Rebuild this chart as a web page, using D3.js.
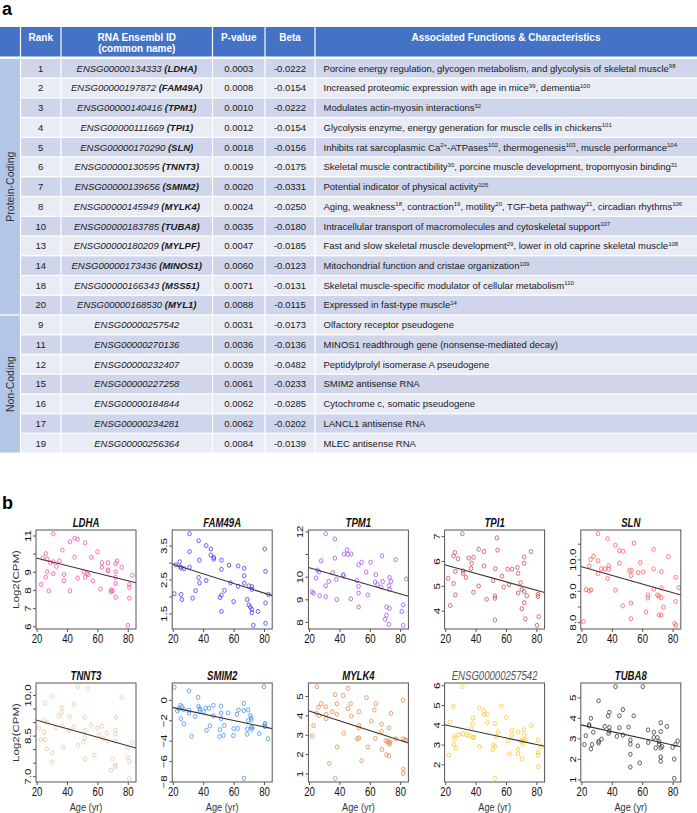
<!DOCTYPE html>
<html><head><meta charset="utf-8">
<script src="https://cdn.jsdelivr.net/npm/d3@7"></script>
<style>
body{margin:0;background:#fff;}
svg{display:block;}
text{white-space:pre;}
</style></head><body><svg id="chart" width="697" height="813"></svg>
<script>
// ================= DATA: table (panel a) =================
const headerLabels = ["", "Rank", "RNA Ensembl ID|(common name)", "P-value", "Beta", "Associated Functions & Characteristics"];
const ranks = [1,2,3,4,5,6,7,8,10,13,14,18,20,9,11,12,15,16,17,19];
const ensemblIds = ["ENSG00000134333","ENSG00000197872","ENSG00000140416","ENSG00000111669","ENSG00000170290","ENSG00000130595","ENSG00000139656","ENSG00000145949","ENSG00000183785","ENSG00000180209","ENSG00000173436","ENSG00000166343","ENSG00000168530","ENSG00000257542","ENSG00000270136","ENSG00000232407","ENSG00000227258","ENSG00000184844","ENSG00000234281","ENSG00000256364"];
const commonNames = ["LDHA","FAM49A","TPM1","TPI1","SLN","TNNT3","SMIM2","MYLK4","TUBA8","MYLPF","MINOS1","MSS51","MYL1","","","","","","",""];
const pValues = ["0.0003","0.0008","0.0010","0.0012","0.0018","0.0019","0.0020","0.0024","0.0035","0.0047","0.0060","0.0071","0.0088","0.0031","0.0036","0.0039","0.0061","0.0062","0.0062","0.0084"];
const betas = ["-0.0222","-0.0154","-0.0222","-0.0154","-0.0156","-0.0175","-0.0331","-0.0250","-0.0180","-0.0185","-0.0123","-0.0131","-0.0115","-0.0173","-0.0136","-0.0482","-0.0233","-0.0285","-0.0202","-0.0139"];
const functionsText = [
  "Porcine energy regulation, glycogen metabolism, and glycolysis of skeletal muscle^{98}",
  "Increased proteomic expression with age in mice^{99}, dementia^{100}",
  "Modulates actin-myosin interactions^{32}",
  "Glycolysis enzyme, energy generation for muscle cells in chickens^{101}",
  "Inhibits rat sarcoplasmic Ca^{2+}-ATPases^{102}, thermogenesis^{103}, muscle performance^{104}",
  "Skeletal muscle contractibility^{30}, porcine muscle development, tropomyosin binding^{31}",
  "Potential indicator of physical activity^{105}",
  "Aging, weakness^{18}, contraction^{19}, motility^{20}, TGF-beta pathway^{21}, circadian rhythms^{106}",
  "Intracellular transport of macromolecules and cytoskeletal support^{107}",
  "Fast and slow skeletal muscle development^{29}, lower in old caprine skeletal muscle^{108}",
  "Mitochondrial function and cristae organization^{109}",
  "Skeletal muscle-specific modulator of cellular metabolism^{110}",
  "Expressed in fast-type muscle^{14}",
  "Olfactory receptor pseudogene",
  "MINOS1 readthrough gene (nonsense-mediated decay)",
  "Peptidylprolyl isomerase A pseudogene",
  "SMIM2 antisense RNA",
  "Cytochrome c, somatic pseudogene",
  "LANCL1 antisense RNA",
  "MLEC antisense RNA"
];
const groupNames = ["Protein-Coding","Non-Coding"];
const groupSizes = [13,7];

// ================= DATA: scatter plots (panel b) =================
const plotTitles = ["LDHA","FAM49A","TPM1","TPI1","SLN","TNNT3","SMIM2","MYLK4","ENSG00000257542","TUBA8"];
const ldhaPts = [[31,11.1],[45,10.85],[47,10.8],[42,10.65],[52,10.6],[37,10.2],[60,10.1],[26,10.0],[45,9.8],[56,9.8],[24,9.75],[27,9.7],[35,9.6],[73,9.6],[31,9.55],[29,9.5],[33,9.3],[63,9.5],[67,9.5],[72,9.45],[63,9.25],[67,9.1],[67,9.05],[76,9.25],[72,9.0],[27,9.0],[31,8.9],[38,8.85],[51,9.0],[53,8.9],[54,8.85],[26,8.7],[47,8.65],[72,8.7],[52,8.7],[83,8.8],[57,8.5],[38,8.5],[23,8.3],[72,8.35],[81,8.3],[81,8.15],[62,8.05],[69,8.0],[70,7.95],[69,7.9],[28,7.95],[42,7.95],[72,7.6],[81,7.55],[80,6.05]];
const fam49aPts = [[31,3.85],[37,3.64],[42,3.5],[45,3.4],[31,3.32],[45,3.22],[47,3.15],[47,3.1],[37.5,3.07],[52,3.07],[80.5,3.4],[81,2.74],[24.5,3.02],[22,2.93],[25,2.87],[25.5,2.84],[27.5,2.82],[31,2.86],[57,2.92],[63,2.9],[67,2.83],[52,2.8],[67,2.61],[37,2.56],[37.5,2.4],[42,2.47],[58,2.4],[67,2.39],[63,2.3],[70,2.31],[72,2.29],[72,2.21],[54,2.18],[35,2.17],[21,2.08],[25.5,2.06],[52,2.04],[51,1.97],[83,2.06],[26,1.91],[33,1.95],[69,1.91],[60,1.85],[81,1.81],[70,1.75],[71,1.69],[72,1.62],[72,1.52],[76,1.56],[52,1.56],[81,1.21],[73,1.15]];
const tpm1Pts = [[31,11.9],[37,11.66],[45,11.18],[47.8,11.0],[43,11.0],[45.5,10.98],[68,10.92],[37,10.82],[77,10.75],[28,10.7],[54.6,10.64],[60.5,10.64],[52.6,10.52],[25.6,10.29],[26.5,10.21],[35.6,10.18],[57.6,10.2],[42.4,10.09],[42.8,10.03],[64,10.09],[24.7,9.94],[84,9.9],[73,9.97],[38,9.88],[51.5,9.83],[33,9.79],[63.5,9.76],[68.5,9.79],[74,9.79],[65,9.66],[72.6,9.6],[31,9.6],[52.6,9.57],[67.5,9.54],[73,9.43],[22,9.33],[23,9.27],[52.6,9.27],[27,9.16],[31,9.11],[58.6,9.19],[47.5,9.02],[38.3,8.99],[82,8.76],[52.6,8.66],[71,8.66],[81,8.46],[73,8.6],[71,8.3],[70,8.12],[72.6,7.89],[82,7.85]];
const tpi1Pts = [[31.3,7.1],[54,6.93],[26.4,6.34],[42,6.47],[45.5,6.38],[54.4,6.44],[76.4,6.38],[25.5,6.2],[28.4,6.09],[35.5,6.12],[38.6,6.15],[72,6.16],[37.4,5.91],[72,5.91],[26.7,5.58],[31.8,5.6],[31.8,5.5],[33.6,5.34],[37,5.7],[45.5,5.8],[53,5.69],[61,5.67],[64,5.67],[67.5,5.74],[68,5.5],[57.4,5.39],[51.5,5.21],[22,5.3],[25.5,5.09],[42,4.99],[62,5.05],[58.5,4.95],[69.6,5.13],[70.4,4.85],[72,4.77],[73.7,4.6],[81,4.66],[81,4.57],[68,4.71],[38.6,4.74],[26.7,4.64],[52.7,4.59],[52.7,4.5],[47.3,4.46],[72,4.32],[70.4,4.08],[23.3,4.21],[81.5,3.76],[72.7,3.67],[52.7,3.62],[80.4,3.41]];
const slnPts = [[31,10.82],[37.2,10.66],[54.6,10.52],[42.4,10.45],[45,10.28],[47.4,10.26],[67.5,10.32],[28,10.1],[77.2,10.09],[26,10.0],[45,9.88],[58.7,9.9],[31,9.96],[25.2,9.79],[33,9.7],[35.6,9.7],[38,9.8],[38,9.69],[67.5,9.7],[51.6,9.64],[53,9.65],[57.4,9.58],[60.7,9.6],[72.6,9.61],[31,9.55],[52.6,9.48],[82,9.43],[37.2,9.39],[84,9.1],[72.6,9.09],[67.7,9.05],[23,9.04],[25.2,9.0],[26.3,9.03],[42.4,9.02],[63.7,8.87],[70,8.87],[71,8.83],[72.6,8.78],[63.7,8.77],[82,8.66],[52.6,8.61],[47.2,8.52],[74,8.48],[62.5,8.32],[71,8.23],[72.6,8.23],[52.6,8.11],[21.4,8.02],[81.3,7.96],[82.2,7.9]];
const tnnt3Pts = [[47,10.31],[53.6,10.24],[76,9.9],[30.4,9.96],[25.5,9.7],[44.4,9.66],[36.7,9.54],[36.4,9.36],[34.7,9.22],[41.8,9.21],[51.8,9.18],[72.2,9.18],[24.7,9.07],[27,8.98],[32.7,8.79],[36.9,8.85],[44.4,8.81],[56,8.89],[60,8.78],[62.9,8.84],[21.6,8.78],[41.3,8.7],[51.8,8.69],[71.8,8.7],[25,8.62],[61.3,8.53],[66.2,8.6],[71.8,8.56],[52,8.42],[64,8.39],[66.7,8.3],[71.8,8.3],[22.7,8.35],[25.5,8.35],[50.7,8.26],[83,8.24],[47,8.15],[37.6,8.07],[80,8.05],[26.7,8.01],[30.4,7.86],[58,7.77],[80,7.69],[52,7.64],[70,7.64],[81,7.54],[30.4,7.52],[71.8,7.41],[71.8,7.36],[69,7.22],[81,6.92]];
const smim2Pts = [[21,1.22],[30.7,0.88],[80,1.29],[36.7,0.24],[66.7,-0.34],[46.7,-0.54],[25,-0.54],[26,-0.68],[36.9,-0.65],[37.8,-0.85],[41.6,-0.82],[43.8,-0.82],[51.8,-0.61],[22.9,-1.09],[24,-0.88],[27.3,-0.95],[30.7,-1.02],[30.7,-1.29],[40.4,-1.16],[37.8,-1.02],[63.3,-0.99],[69.5,-0.99],[66.7,-1.05],[51.8,-1.29],[56.4,-1.29],[46.7,-1.56],[34.7,-1.63],[71,-1.53],[71.6,-1.77],[25.3,-1.84],[51.8,-1.84],[69.6,-2.04],[71.6,-1.97],[62.2,-1.43],[27.3,-2.35],[80.7,-2.31],[80.4,-2.45],[80.7,-2.62],[53.8,-2.52],[44.4,-2.55],[71.6,-2.65],[69,-2.86],[72.4,-2.72],[60,-2.82],[62.7,-2.79],[50.9,-2.93],[42.2,-2.99],[71.8,-2.89],[76.9,-3.3],[69,-3.37],[53.3,-3.47],[59.8,-3.5],[32.4,-3.57],[50.7,-3.6],[82.7,-3.81],[66.7,-7.69]];
const mylk4Pts = [[25.2,5.48],[45.6,5.39],[57.8,4.91],[81.8,4.78],[37.2,5.07],[42.4,5.03],[28,4.6],[38.3,4.6],[47.4,4.6],[64,4.6],[26.3,4.42],[31,4.44],[45.6,4.35],[35.3,4.19],[52.8,4.19],[63,4.28],[74,4.1],[24.8,4.12],[26.6,3.99],[31.3,4.05],[31.3,3.83],[47.8,3.96],[38.3,4.05],[61,3.71],[52.8,3.49],[52.8,3.35],[72.6,3.35],[23,3.47],[67.7,3.54],[67.7,3.17],[42.8,3.08],[63.7,2.81],[51.7,2.79],[52.8,2.83],[22,2.94],[77.2,2.79],[70.5,2.7],[73,2.67],[73,2.58],[73,2.52],[71.6,2.63],[83,2.74],[83.8,2.72],[82,2.79],[38.5,2.36],[58.7,2.36],[68,2.24],[71,1.97],[72.7,1.91],[54.6,1.66],[33.3,1.52],[82,1.23],[82,1.0],[37.2,0.75]];
const ensgPts = [[31.3,5.93],[25.3,4.94],[57,4.94],[42.4,4.85],[45.5,4.71],[47.8,4.53],[45.5,4.51],[38.2,4.35],[60.2,4.37],[23.1,4.14],[47.8,4.11],[38,4.07],[76.7,3.96],[71.8,3.75],[37.3,3.82],[52.7,4.07],[54.7,3.63],[63.8,3.72],[68,3.63],[72.2,3.47],[26.2,3.43],[28.9,3.5],[31.6,3.54],[26.2,3.29],[34.2,3.5],[35.8,3.45],[38.2,3.36],[63.8,3.45],[53.6,3.4],[72,3.24],[69.6,3.19],[70.7,3.17],[73,3.19],[81.1,3.22],[39,3.36],[61.1,3.19],[51.6,2.97],[42.4,2.9],[25.6,3.0],[71.1,3.03],[52.7,2.9],[27.3,2.81],[68,2.76],[51.1,2.74],[83.3,2.9],[68,2.53],[62.4,2.53],[81.1,2.6],[81.1,2.46],[22.4,2.46],[70.4,2.28],[81.3,1.88],[52.7,1.29]];
const tuba8Pts = [[42.4,5.52],[60.4,5.52],[31.3,4.83],[47.3,4.4],[38.4,4.27],[37.6,4.1],[45,4.1],[54.4,4.1],[26.2,3.98],[25.1,3.67],[25.1,3.6],[72.2,3.76],[76.2,3.58],[35.3,3.58],[38.4,3.53],[45,3.52],[51,3.55],[63.9,3.41],[67.7,3.3],[72.2,3.33],[27.8,3.3],[37.8,3.24],[38.4,3.35],[43.3,3.1],[47.3,3.16],[22.9,3.13],[33.2,2.96],[52.2,2.92],[31.3,2.85],[31.3,2.77],[70,3.04],[67.6,3.04],[64,2.8],[71,2.85],[71,2.72],[52.2,2.72],[22,2.7],[27,2.7],[83.3,2.87],[81.8,2.7],[80,2.56],[57.1,2.63],[68.9,2.53],[72.2,2.53],[73.1,2.6],[26.2,2.48],[52.2,2.22],[72.2,2.09],[72.2,1.88],[81.1,1.99],[58.4,1.8],[52.2,1.6],[81.1,1.05]];
const plotPoints = [ldhaPts, fam49aPts, tpm1Pts, tpi1Pts, slnPts, tnnt3Pts, smim2Pts, mylk4Pts, ensgPts, tuba8Pts];
const pointColors = ["#FF4FA7","#3C3CF2","#A652F5","#C8504E","#FF5C5C","#E9C7A2","#4E8FE2","#E8894A","#FFC52E","#3A3A3A"];
// fitted line: value at age 20 and at age 85
const fitAt20 = [9.75, 2.95, 10.4, 5.84, 9.77, 9.07, -0.75, 4.23, 4.0, 3.65];
const fitAt85 = [8.4, 2.03, 9.14, 4.74, 8.87, 8.05, -2.81, 2.58, 2.92, 2.6];
const yTickValues = [[6,7,8,9,10,11],[1.5,2,2.5,3,3.5],[8,9,10,11,12],[4,5,6,7],[8,8.5,9,9.5,10,10.5],[7,7.5,8,8.5,9,9.5,10],[-8,-6,-4,-2,0],[1,2,3,4,5],[2,3,4,5,6],[1,2,3,4,5]];
const yTickLabels = [[6,7,8,9,11],[1.5,2.5,3.5],[8,9,10,12],[4,5,6,7],[8,9,10],[7,8.5,10],[-8,-6,-4,-2,0],[1,2,3,4,5],[2,3,4,5,6],[1,2,3,4,5]];
const yTickDecimals = [0,1,0,0,1,1,0,0,0,0];
const ageTicks = [20,40,60,80];
const ageDomain = [19.6, 85.4];

// ================= DRAW =================
const FONT = '"Liberation Sans", Arial, Helvetica, sans-serif';
const svg = d3.select("#chart").attr("font-family", FONT);

// panel letters
svg.append("text").attr("x", 2).attr("y", 15).attr("font-size", 18).attr("font-weight", "bold").attr("fill", "#000").text("a");
svg.append("text").attr("x", 2).attr("y", 509).attr("font-size", 18).attr("font-weight", "bold").attr("fill", "#000").text("b");

// ---- table ----
const colEdges = [0, 20.5, 61, 212.5, 265, 315, 697];
const headTop = 27, headBot = 56.5;
const rowY = d3.scaleBand().domain(d3.range(ranks.length)).range([59, 452.5]).paddingInner(0.065);
const tbl = svg.append("g").attr("font-size", 9.5);

// header
colEdges.slice(0, -1).forEach((x0, i) => {
  const x1 = colEdges[i + 1];
  tbl.append("rect").attr("x", x0 + (i ? 0.6 : 0)).attr("y", headTop)
    .attr("width", x1 - x0 - (i ? 0.6 : 0) - (i < 5 ? 0.6 : 0)).attr("height", headBot - headTop).attr("fill", "#4472C4");
  const lines = headerLabels[i].split("|").filter(s => s);
  lines.forEach((s, j) => {
    tbl.append("text").attr("x", (x0 + x1) / 2).attr("y", 40.5 + j * 11.5).attr("text-anchor", "middle")
      .attr("font-size", 10).attr("fill", "#fff").attr("font-weight", "bold").text(s);
  });
});

// body cells
ranks.forEach((r, i) => {
  const y0 = rowY(i), h = rowY.bandwidth();
  const fill = i % 2 === 0 ? "#CFD5EA" : "#E9EBF5";
  for (let c = 1; c < 6; c++) {
    const x0 = colEdges[c] + 0.6, x1 = colEdges[c + 1] - (c < 5 ? 0.6 : 0);
    tbl.append("rect").attr("x", x0).attr("y", y0).attr("width", x1 - x0).attr("height", h).attr("fill", fill);
  }
  const cy = y0 + h / 2 + 3.4;
  tbl.append("text").attr("x", (colEdges[1] + colEdges[2]) / 2).attr("y", cy).attr("text-anchor", "middle").attr("fill", "#1a1a1a").text(r);
  const idT = tbl.append("text").attr("x", (colEdges[2] + colEdges[3]) / 2).attr("y", cy).attr("text-anchor", "middle")
    .attr("fill", "#1a1a1a").attr("font-style", "italic");
  idT.append("tspan").text(ensemblIds[i]);
  if (commonNames[i]) {
    idT.append("tspan").text(" ");
    idT.append("tspan").attr("font-weight", "bold").text("(" + commonNames[i] + ")");
  }
  tbl.append("text").attr("x", (colEdges[3] + colEdges[4]) / 2).attr("y", cy).attr("text-anchor", "middle").attr("fill", "#1a1a1a").text(pValues[i]);
  tbl.append("text").attr("x", (colEdges[4] + colEdges[5]) / 2).attr("y", cy).attr("text-anchor", "middle").attr("fill", "#1a1a1a").text(betas[i]);
  const ft = tbl.append("text").attr("x", colEdges[5] + 8.5).attr("y", cy).attr("fill", "#1a1a1a");
  let raised = false;
  functionsText[i].split(/(\^\{[^}]*\})/).forEach(part => {
    if (!part) return;
    const m = part.match(/^\^\{([^}]*)\}$/);
    if (m) { ft.append("tspan").attr("font-size", 6).attr("dy", -3.5).text(m[1]); raised = true; }
    else { const t = ft.append("tspan").text(part); if (raised) { t.attr("dy", 3.5); raised = false; } }
  });
});

// group column
let startRow = 0;
groupNames.forEach((name, gi) => {
  const y0 = rowY(startRow);
  const last = startRow + groupSizes[gi] - 1;
  const y1 = rowY(last) + rowY.bandwidth();
  tbl.append("rect").attr("x", 0).attr("y", y0).attr("width", colEdges[1] - 0.6).attr("height", y1 - y0).attr("fill", "#B4C6E7");
  tbl.append("text").attr("transform", `translate(${13.8},${(y0 + y1) / 2}) rotate(-90)`).attr("text-anchor", "middle")
    .attr("font-size", 10.5).attr("fill", "#333").text(name);
  startRow += groupSizes[gi];
});

// ---- scatter plots ----
const SX = 0.8; // horizontal squash of the plot panel text
const plotW = 100, plotH = 99;
const rowTops = [530, 683];
const AX = "#555";
const pan = svg.append("g");

plotTitles.forEach((title, k) => {
  const col = k % 5, row = Math.floor(k / 5);
  const L = 36 + col * 136.2, T = rowTops[row], B = T + plotH;
  const pts = plotPoints[k];
  const x = d3.scaleLinear().domain(ageDomain).range([L, L + plotW]);
  const [mn, mx] = d3.extent(pts, d => d[1]);
  const pad = (mx - mn) * 0.04;
  const y = d3.scaleLinear().domain([mn - pad, mx + pad]).range([B, T]);
  const g = pan.append("g");

  const clipId = "clip" + k;
  g.append("clipPath").attr("id", clipId).append("rect").attr("x", L).attr("y", T).attr("width", plotW).attr("height", plotH);

  g.append("g").selectAll("ellipse").data(pts).join("ellipse")
    .attr("cx", d => x(d[0])).attr("cy", d => y(d[1])).attr("rx", 1.75).attr("ry", 2.1)
    .attr("fill", "none").attr("stroke", pointColors[k]).attr("stroke-width", 0.8);

  const a = fitAt20[k], b = fitAt85[k];
  const fit = v => a + (b - a) * (v - 20) / 65;
  g.append("line").attr("clip-path", `url(#${clipId})`)
    .attr("x1", x(ageDomain[0])).attr("y1", y(fit(ageDomain[0])))
    .attr("x2", x(ageDomain[1])).attr("y2", y(fit(ageDomain[1])))
    .attr("stroke", "#333").attr("stroke-width", 1.1);

  g.append("rect").attr("x", L).attr("y", T).attr("width", plotW).attr("height", plotH)
    .attr("fill", "none").attr("stroke", AX).attr("stroke-width", 1);

  const gx = g.append("g").attr("transform", `translate(0,${B})`)
    .call(d3.axisBottom(x).tickValues(ageTicks).tickSize(3).tickPadding(2).tickSizeOuter(0));
  gx.select(".domain").remove();
  gx.attr("font-family", FONT).attr("font-size", 12);
  gx.selectAll("line").attr("stroke", AX);
  gx.selectAll("text").attr("fill", "#111").attr("transform", `scale(${SX},1)`);

  const dec = yTickDecimals[k];
  const labs = yTickLabels[k];
  const gy = g.append("g").attr("transform", `translate(${L},0)`)
    .call(d3.axisLeft(y).tickValues(yTickValues[k]).tickSize(3).tickSizeOuter(0)
      .tickFormat(v => labs.some(l => Math.abs(l - v) < 1e-9) ? d3.format(`.${dec}f`)(v) : ""));
  gy.select(".domain").remove();
  gy.attr("font-family", FONT).attr("font-size", 11.5);
  gy.selectAll("line").attr("stroke", AX);
  gy.selectAll("text").attr("x", 0).attr("dy", null).attr("text-anchor", "middle").attr("fill", "#111")
    .attr("transform", `translate(-5,0) rotate(-90) scale(1,${SX})`);

  const isEnsg = title.startsWith("ENSG");
  g.append("text").attr("transform", `translate(${L + plotW / 2},${T - 3.5}) scale(${SX},1)`)
    .attr("text-anchor", "middle").attr("font-size", 12).attr("font-style", "italic")
    .attr("font-weight", isEnsg ? "normal" : "bold").attr("fill", isEnsg ? "#555" : "#111").text(title);

  if (col === 0) {
    g.append("text").attr("transform", `translate(19,${(T + B) / 2}) rotate(-90) scale(1,${SX})`)
      .attr("text-anchor", "middle").attr("font-size", 11.5).attr("fill", "#333").text("Log2(CPM)");
  }
  if (row === 1) {
    g.append("text").attr("transform", `translate(${L + plotW / 2},811) scale(${SX},1)`)
      .attr("text-anchor", "middle").attr("font-size", 11.5).attr("fill", "#333").text("Age (yr)");
  }
});
</script></body></html>
